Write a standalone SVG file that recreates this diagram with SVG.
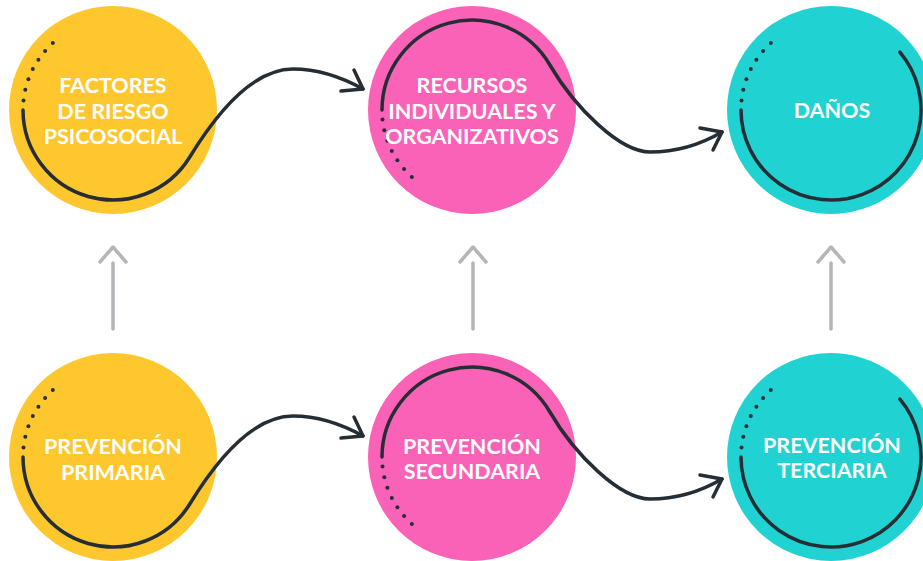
<svg xmlns="http://www.w3.org/2000/svg" xmlns:xlink="http://www.w3.org/1999/xlink" width="923" height="561" viewBox="0 0 923 561">
<style>
.lbl{font-family:Lato,"Liberation Sans",sans-serif;font-weight:700;font-size:21.5px;fill:#ffffff;text-anchor:middle}
.yel{fill:#FEC72E}
.pnk{fill:#F962B6}
.teal{fill:#21D2D2}
.ink{fill:none;stroke:#262E35;stroke-width:3.5;stroke-linecap:round;stroke-linejoin:round}
.dot{fill:#262E35}
.up{fill:none;stroke:#B4B5BA;stroke-width:3.5;stroke-linecap:round;stroke-linejoin:round}
</style>
<defs>
<g id="dotsUp">
<circle class="dot" cx="-89.5" cy="-9.4" r="2"/>
<circle class="dot" cx="-87.7" cy="-20.2" r="2"/>
<circle class="dot" cx="-84.6" cy="-30.8" r="2"/>
<circle class="dot" cx="-80.2" cy="-40.9" r="2"/>
<circle class="dot" cx="-74.6" cy="-50.3" r="2"/>
<circle class="dot" cx="-67.9" cy="-59" r="2"/>
<circle class="dot" cx="-60.2" cy="-66.9" r="2"/>
</g>
<g id="dotsDown">
<circle class="dot" cx="-89.5" cy="9.4" r="2"/>
<circle class="dot" cx="-87.7" cy="20.2" r="2"/>
<circle class="dot" cx="-84.6" cy="30.8" r="2"/>
<circle class="dot" cx="-80.2" cy="40.9" r="2"/>
<circle class="dot" cx="-74.6" cy="50.3" r="2"/>
<circle class="dot" cx="-67.9" cy="59" r="2"/>
<circle class="dot" cx="-60.2" cy="66.9" r="2"/>
</g>
</defs>
<rect width="923" height="561" fill="#ffffff"/>

<g id="factores">
<circle class="yel" cx="113" cy="110" r="104"/>
<use xlink:href="#dotsUp" href="#dotsUp" transform="translate(113,110)"/>
<text class="lbl" x="113" y="93">FACTORES</text>
<text class="lbl" x="113" y="118.5">DE RIESGO</text>
<text class="lbl" x="113" y="144">PSICOSOCIAL</text>
</g>

<g id="recursos">
<circle class="pnk" cx="472" cy="110" r="104"/>
<use xlink:href="#dotsDown" href="#dotsDown" transform="translate(472,110)"/>
<text class="lbl" x="472" y="93">RECURSOS</text>
<text class="lbl" x="472" y="118.5">INDIVIDUALES Y</text>
<text class="lbl" x="472" y="144">ORGANIZATIVOS</text>
</g>

<g id="danos">
<circle class="teal" cx="831" cy="110" r="104"/>
<use xlink:href="#dotsUp" href="#dotsUp" transform="translate(831,110)"/>
<path class="ink" d="M741,110 A90,90 0 1 0 899.9,52.1"/>
<text class="lbl" x="832" y="118">DAÑOS</text>
</g>

<g id="primaria">
<circle class="yel" cx="113" cy="457" r="104"/>
<use xlink:href="#dotsUp" href="#dotsUp" transform="translate(113,457)"/>
<text class="lbl" x="113" y="454">PREVENCIÓN</text>
<text class="lbl" x="113" y="480">PRIMARIA</text>
</g>

<g id="secundaria">
<circle class="pnk" cx="472" cy="457" r="104"/>
<use xlink:href="#dotsDown" href="#dotsDown" transform="translate(472,457)"/>
<text class="lbl" x="472" y="454">PREVENCIÓN</text>
<text class="lbl" x="472" y="479">SECUNDARIA</text>
</g>

<g id="terciaria">
<circle class="teal" cx="831" cy="457" r="104"/>
<use xlink:href="#dotsUp" href="#dotsUp" transform="translate(831,457)"/>
<path class="ink" d="M741,457 A90,90 0 1 0 899.9,399.1"/>
<text class="lbl" x="832" y="453">PREVENCIÓN</text>
<text class="lbl" x="832" y="478">TERCIARIA</text>
</g>

<g id="connectors">
<path class="ink" d="M23,110 A90,90 0 0 0 189.3,157.7 C216,114 252,69 293,69 C320,69 345,79 363,89"/>
<polyline class="ink" points="354,70 363,89 341,91"/>
<path class="ink" d="M382,110 A90,90 0 0 1 549.9,65 C575,108 620,152 650,152 C680,152 705,142 722,132"/>
<polyline class="ink" points="700,128 722,132 713,150"/>
<path class="ink" d="M23,457 A90,90 0 0 0 189.3,504.7 C216,461 252,416 293,416 C320,416 345,426 363,436"/>
<polyline class="ink" points="354,417 363,436 341,438"/>
<path class="ink" d="M382,457 A90,90 0 0 1 549.9,412 C575,455 620,499 650,499 C680,499 705,489 722,479"/>
<polyline class="ink" points="700,475 722,479 713,497"/>
<path class="up" d="M113,329 V263 M100,262 L113,247 L126,262"/>
<path class="up" d="M473,329 V263 M460,262 L473,247 L486,262"/>
<path class="up" d="M831,329 V263 M818,262 L831,247 L844,262"/>
</g>
</svg>
